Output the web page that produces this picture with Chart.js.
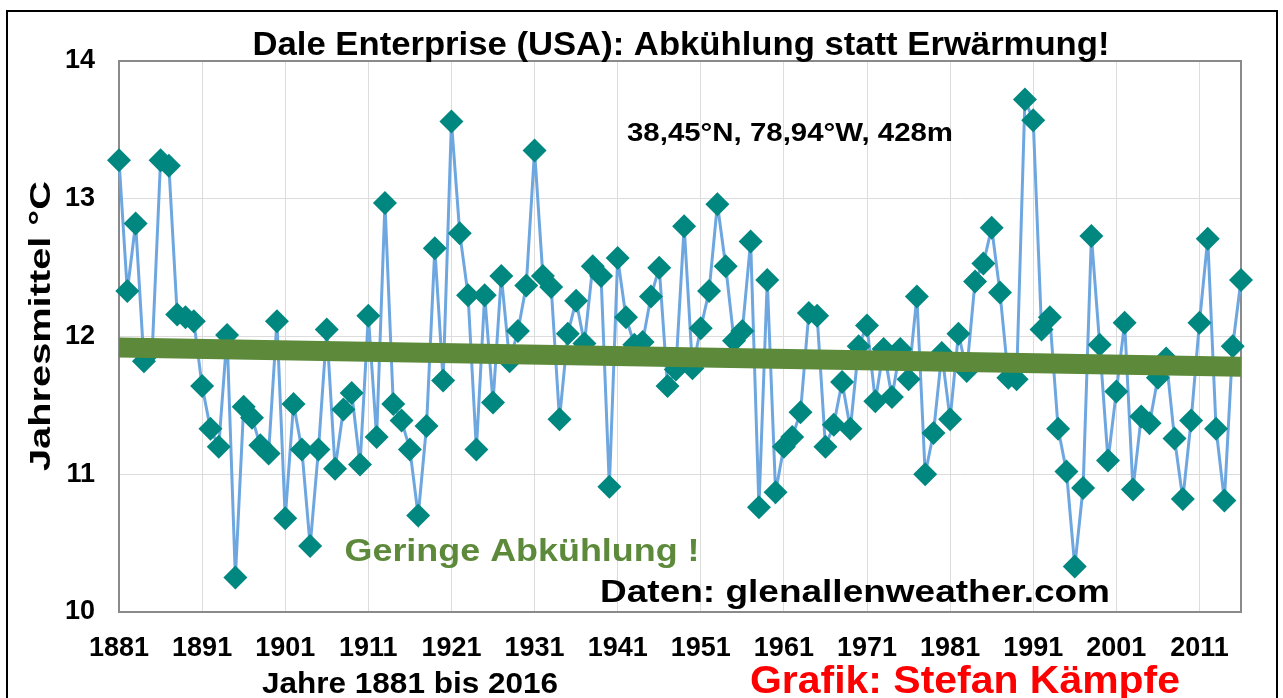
<!DOCTYPE html>
<html lang="de">
<head>
<meta charset="utf-8">
<title>Dale Enterprise (USA): Abkühlung statt Erwärmung!</title>
<script src="https://cdn.jsdelivr.net/npm/chart.js@4.4.1/dist/chart.umd.min.js"></script>
<style>
    html, body { margin: 0; padding: 0; background: #fff; }
    #wrap { position: relative; width: 1283px; height: 698px; }
</style>
</head>
<body>
<div id="wrap"><canvas id="grafik"></canvas></div>
<script>
// ── Daten ─────────────────────────────────────────────────────
const ersteJahr = 1881;
const letzteJahr = 2016;
const jahre = Array.from({ length: letzteJahr - ersteJahr + 1 }, (_, i) => String(ersteJahr + i));

const jahresmittel = [
    13.28, 12.33, 12.82, 11.82, 11.90, 13.28, 13.24, 12.16, 12.14, 12.11,  // 1881-1890
    11.64, 11.33, 11.20, 12.01, 10.25, 11.49, 11.41, 11.21, 11.15, 12.11,  // 1891-1900
    10.68, 11.51, 11.18, 10.48, 11.18, 12.05, 11.04, 11.47, 11.59, 11.07,  // 1901-1910
    12.15, 11.27, 12.97, 11.51, 11.39, 11.18, 10.70, 11.35, 12.64, 11.68,  // 1911-1920
    13.56, 12.75, 12.30, 11.18, 12.30, 11.52, 12.44, 11.82, 12.04, 12.37,  // 1921-1930
    13.35, 12.44, 12.36, 11.40, 12.02, 12.26, 11.95, 12.51, 12.44, 10.91,  // 1931-1940
    12.57, 12.14, 11.94, 11.96, 12.29, 12.50, 11.64, 11.76, 12.80, 11.77,  // 1941-1950
    12.06, 12.33, 12.96, 12.51, 11.97, 12.04, 12.69, 10.76, 12.41, 10.87,  // 1951-1960
    11.20, 11.27, 11.45, 12.17, 12.15, 11.20, 11.36, 11.67, 11.33, 11.93,  // 1961-1970
    12.08, 11.53, 11.91, 11.56, 11.91, 11.69, 12.29, 11.00, 11.30, 11.88,  // 1971-1980
    11.40, 12.02, 11.75, 12.40, 12.53, 12.79, 12.32, 11.70, 11.69, 13.72,  // 1981-1990
    13.57, 12.05, 12.14, 11.33, 11.02, 10.33, 10.90, 12.73, 11.94, 11.10,  // 1991-2000
    11.60, 12.10, 10.89, 11.42, 11.37, 11.70, 11.84, 11.26, 10.82, 11.39,  // 2001-2010
    12.10, 12.71, 11.33, 10.81, 11.93, 12.41                               // 2011-2016
];

// Trendlinie: Anfangs- und Endwert
const trendAnfang = 11.92;
const trendEnde   = 11.78;

const achsenJahre = ['1881', '1891', '1901', '1911', '1921', '1931', '1941', '1951', '1961', '1971', '1981', '1991', '2001', '2011'];
const yTicks = [10, 11, 12, 13, 14];

// ── Stil ──────────────────────────────────────────────────────
const SCHRIFT = '"Liberation Sans", Arial, Helvetica, sans-serif';
const GRUEN   = '#5c8a3a';
const TUERKIS = '#00877f';
const BLAU    = '#6ea7e0';
const GITTER  = '#dcdcdc';

const trendDaten = jahre.map((_, i) => i === 0 ? trendAnfang : (i === jahre.length - 1 ? trendEnde : null));

// Text gestaucht/gestreckt auf Zielbreite zeichnen
function textBreite(ctx, text, cx, cy, groesse, breite, farbe, drehung = 0) {
    ctx.save();
    ctx.font = `bold ${groesse}px ${SCHRIFT}`;
    const w = ctx.measureText(text).width;
    ctx.translate(cx, cy);
    if (drehung) ctx.rotate(drehung);
    ctx.scale(breite / w, 1);
    ctx.textAlign = 'center';
    ctx.textBaseline = 'alphabetic';
    ctx.fillStyle = farbe;
    ctx.fillText(text, 0, 0);
    ctx.restore();
}

// ── Plugins ───────────────────────────────────────────────────
const rahmenPlugin = {
    id: 'rahmen',
    beforeDatasetsDraw(chart) {
        const { ctx, chartArea: a } = chart;
        ctx.save();
        ctx.strokeStyle = '#8a8a8a';
        ctx.lineWidth = 2;
        ctx.strokeRect(a.left, a.top, a.right - a.left, a.bottom - a.top);
        ctx.restore();
    },
    afterDraw(chart) {
        const { ctx } = chart;
        ctx.save();
        ctx.strokeStyle = '#000';
        ctx.lineWidth = 2;
        ctx.strokeRect(7, 11, 1270, 700);
        ctx.restore();

        textBreite(ctx, 'Dale Enterprise (USA): Abkühlung statt Erwärmung!', 681, 55, 34, 857, '#000');
        textBreite(ctx, '38,45°N, 78,94°W, 428m', 790, 141, 25, 326, '#000');
        textBreite(ctx, 'Geringe Abkühlung !', 522, 561, 31, 355, GRUEN);
        textBreite(ctx, 'Daten: glenallenweather.com', 855, 602, 31, 510, '#000');
        textBreite(ctx, 'Jahre 1881 bis 2016', 410, 693, 29, 296, '#000');
        textBreite(ctx, 'Grafik: Stefan Kämpfe', 965, 693, 39, 430, '#ff0000');
        textBreite(ctx, 'Jahresmittel °C', 50, 326, 29, 290, '#000', -Math.PI / 2);
    }
};

// ── Grafik ────────────────────────────────────────────────────
Chart.defaults.font.family = SCHRIFT;

new Chart(document.getElementById('grafik'), {
    type: 'line',
    data: {
        labels: jahre,
        datasets: [
            {
                label: 'Trend',
                data: trendDaten,
                spanGaps: true,
                borderColor: GRUEN,
                borderWidth: 20,
                borderCapStyle: 'butt',
                pointRadius: 0,
                order: 0
            },
            {
                label: 'Jahresmittel',
                data: jahresmittel,
                borderColor: BLAU,
                borderWidth: 3,
                pointStyle: 'rectRot',
                pointRadius: 12,
                pointBackgroundColor: TUERKIS,
                pointBorderColor: TUERKIS,
                pointBorderWidth: 0,
                tension: 0,
                order: 1
            }
        ]
    },
    options: {
        responsive: true,
        maintainAspectRatio: false,
        animation: false,
        events: [],
        layout: { padding: { top: 61, right: 42, left: 0, bottom: 0 } },
        plugins: {
            legend: { display: false },
            tooltip: { enabled: false }
        },
        scales: {
            x: {
                type: 'category',
                offset: false,
                afterFit: s => { s.height = 86; },
                border: { display: false },
                grid: { color: GITTER, lineWidth: 1, drawTicks: false },
                ticks: {
                    autoSkip: false,
                    maxRotation: 0,
                    padding: 20,
                    color: '#000',
                    font: { size: 27, weight: 'bold' },
                    callback: (v, i) => achsenJahre.includes(jahre[i]) ? jahre[i] : null
                }
            },
            y: {
                min: yTicks[0],
                max: yTicks[yTicks.length - 1],
                afterFit: s => { s.width = 119; },
                afterBuildTicks: s => { s.ticks = yTicks.map(v => ({ value: v })); },
                border: { display: false },
                grid: { color: GITTER, lineWidth: 1, drawTicks: false },
                ticks: {
                    padding: 24,
                    color: '#000',
                    font: { size: 27, weight: 'bold' }
                }
            }
        }
    },
    plugins: [rahmenPlugin]
});
</script>
</body>
</html>
